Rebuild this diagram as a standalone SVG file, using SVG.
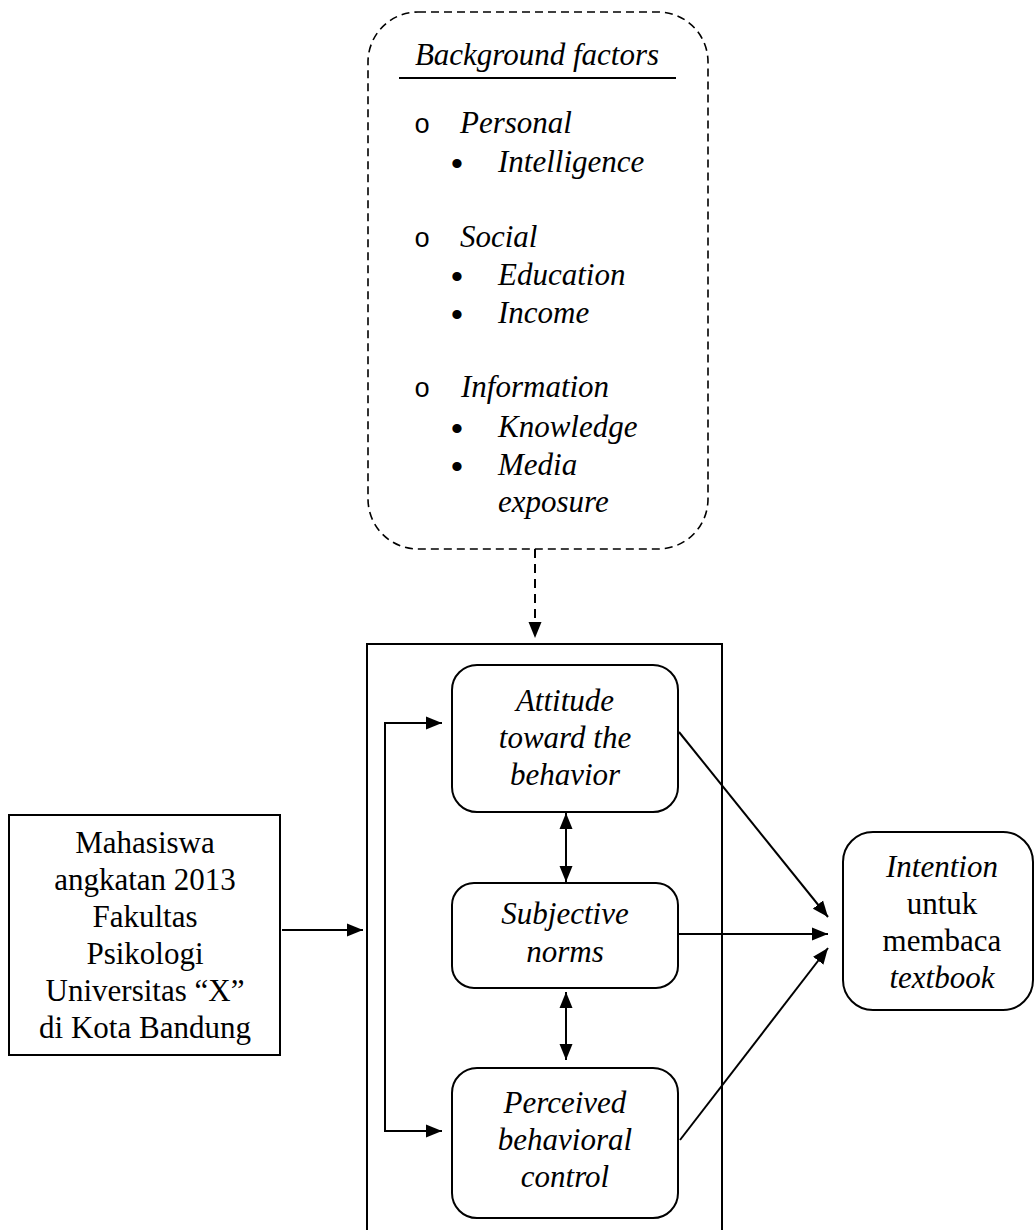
<svg xmlns="http://www.w3.org/2000/svg" width="1034" height="1230" viewBox="0 0 1034 1230">
<style>
.t{font-family:"Liberation Serif","Times New Roman",serif;font-size:31px;fill:#000}
.c{text-anchor:middle}
.i{font-style:italic}
.box{fill:#fff;stroke:#000;stroke-width:2}
.con{stroke:#000;stroke-width:2;fill:none}
.o{font-family:"Liberation Mono","Courier New",monospace;font-size:27px;fill:#000;text-anchor:middle}
.b{font-family:"Liberation Sans",Arial,sans-serif;font-size:34px;fill:#000;text-anchor:middle}
</style>
<defs>
<marker id="ah" markerUnits="userSpaceOnUse" markerWidth="17" markerHeight="14" refX="16" refY="7" orient="auto-start-reverse" viewBox="0 0 17 14"><path d="M0,0.5 L16,7 L0,13.5 z" fill="#000"/></marker>
</defs>
<rect width="1034" height="1230" fill="#fff"/>
<g id="background-factors">
<rect x="368" y="12" width="340" height="537" rx="50" fill="none" stroke="#000" stroke-width="1.6" stroke-dasharray="8 5"/>
<text class="t i c" x="537" y="65">Background factors</text>
<line x1="399" y1="78" x2="676" y2="78" stroke="#000" stroke-width="2"/>
<text class="o" x="422" y="133">o</text><text class="t i" x="460" y="133">Personal</text>
<text class="b" x="457" y="175">•</text><text class="t i" x="498" y="172">Intelligence</text>
<text class="o" x="422" y="247">o</text><text class="t i" x="460" y="247">Social</text>
<text class="b" x="457" y="288">•</text><text class="t i" x="498" y="285">Education</text>
<text class="b" x="457" y="326">•</text><text class="t i" x="498" y="323">Income</text>
<text class="o" x="422" y="397">o</text><text class="t i" x="461" y="397">Information</text>
<text class="b" x="457" y="440">•</text><text class="t i" x="498" y="437">Knowledge</text>
<text class="b" x="457" y="478">•</text><text class="t i" x="498" y="475">Media</text>
<text class="t i" x="498" y="512">exposure</text>
</g>
<g id="tpb-frame">
<rect x="367" y="644" width="355" height="620" fill="none" stroke="#000" stroke-width="2"/>
</g>
<g id="attitude">
<rect class="box" x="452" y="665" width="226" height="147" rx="25"/>
<text class="t i c" x="565" y="711">Attitude</text>
<text class="t i c" x="565" y="748">toward the</text>
<text class="t i c" x="565" y="785">behavior</text>
</g>
<g id="subjective-norms">
<rect class="box" x="452" y="883" width="226" height="105" rx="22"/>
<text class="t i c" x="565" y="924">Subjective</text>
<text class="t i c" x="565" y="962">norms</text>
</g>
<g id="perceived-control">
<rect class="box" x="452" y="1068" width="226" height="150" rx="25"/>
<text class="t i c" x="565" y="1113">Perceived</text>
<text class="t i c" x="565" y="1150">behavioral</text>
<text class="t i c" x="565" y="1187">control</text>
</g>
<g id="mahasiswa">
<rect class="box" x="9" y="815" width="271" height="240"/>
<text class="t c" x="145" y="853">Mahasiswa</text>
<text class="t c" x="145" y="890">angkatan 2013</text>
<text class="t c" x="145" y="927">Fakultas</text>
<text class="t c" x="145" y="964">Psikologi</text>
<text class="t c" x="145" y="1001">Universitas “X”</text>
<text class="t c" x="145" y="1038">di Kota Bandung</text>
</g>
<g id="intention">
<rect class="box" x="843" y="832" width="190" height="178" rx="30"/>
<text class="t i c" x="942" y="877">Intention</text>
<text class="t c" x="942" y="914">untuk</text>
<text class="t c" x="942" y="951">membaca</text>
<text class="t i c" x="942" y="988">textbook</text>
</g>
<g id="connectors">
<path class="con" d="M535,549 V638" stroke-dasharray="9 6" marker-end="url(#ah)"/>
<path class="con" d="M282,930 H363" marker-end="url(#ah)"/>
<path class="con" d="M442,723 H385 V1131 H442" marker-start="url(#ah)" marker-end="url(#ah)"/>
<path class="con" d="M566,813 V882" marker-start="url(#ah)" marker-end="url(#ah)"/>
<path class="con" d="M566,992 V1060" marker-start="url(#ah)" marker-end="url(#ah)"/>
<path class="con" d="M679,732 L828,917" marker-end="url(#ah)"/>
<path class="con" d="M679,934 H828" marker-end="url(#ah)"/>
<path class="con" d="M680,1140 L828,948" marker-end="url(#ah)"/>
</g>
</svg>
